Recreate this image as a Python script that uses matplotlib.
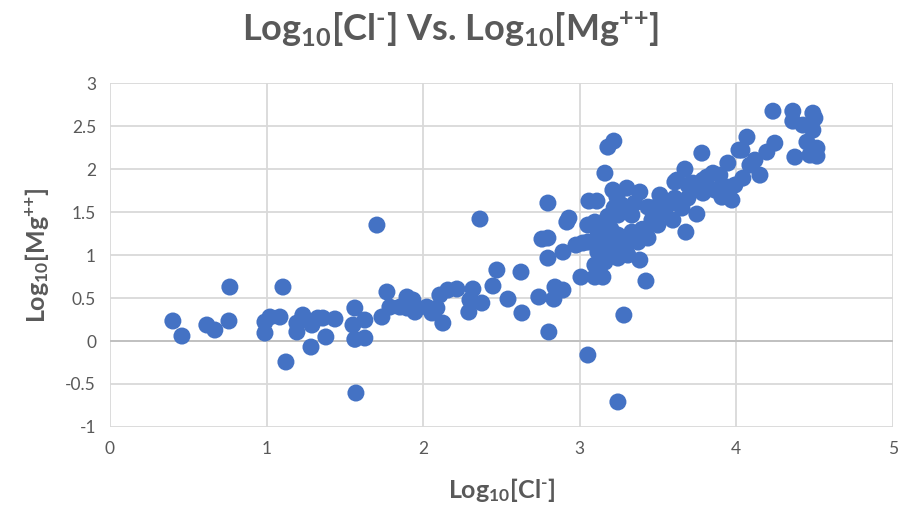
import matplotlib
matplotlib.use("Agg")
import matplotlib.pyplot as plt

plt.rcParams['font.family'] = ['Lato', 'DejaVu Sans']
plt.rcParams['mathtext.fontset'] = 'custom'
plt.rcParams['mathtext.rm'] = 'Lato:bold'
plt.rcParams['mathtext.it'] = 'Lato:bold'
plt.rcParams['mathtext.bf'] = 'Lato:bold'

log_cl = [
    0.402, 0.460, 0.619, 0.670, 0.766, 0.760, 0.990, 0.990, 1.022, 1.086,
    1.105, 1.124, 1.194, 1.194, 1.232, 1.290, 1.284, 1.328, 1.360, 1.379,
    1.437, 1.571, 1.564, 1.552, 1.628, 1.564, 1.628, 1.705, 1.769, 1.737,
    1.788, 1.852, 1.897, 1.935, 1.897, 1.948, 2.024, 2.056, 2.088, 2.107,
    2.126, 2.158, 2.216, 2.318, 2.299, 2.375, 2.292, 2.363, 2.446, 2.471,
    2.625, 2.542, 2.631, 2.739, 2.803, 2.842, 2.893, 2.835, 2.797, 2.893,
    2.759, 2.797, 2.918, 2.931, 2.976, 3.020, 3.008, 3.052, 3.244, 3.282,
    3.423, 3.384, 2.797, 3.678, 3.097, 3.148, 3.052, 3.059, 3.110, 3.212,
    3.301, 3.384, 3.512, 3.218, 3.180, 3.161, 3.436, 3.595, 3.748, 3.780,
    3.672, 3.621, 3.716, 3.787, 3.946, 3.908, 3.972, 4.017, 3.787, 3.851,
    4.234, 4.068, 4.036, 4.119, 4.151, 4.042, 3.940, 3.531, 3.723, 4.361,
    4.489, 4.502, 4.361, 4.425, 4.489, 4.246, 4.195, 4.374, 4.451, 4.515,
    4.515, 4.470, 3.812, 3.238, 3.244, 3.333, 3.352, 3.269, 3.161, 3.161,
    3.244, 3.333, 3.416, 3.461, 3.525, 3.563, 3.653, 3.691, 3.097, 3.116,
    3.206, 3.289, 3.372, 3.436, 3.161, 3.244, 3.097, 3.691, 3.608, 3.499,
    3.308, 3.052, 3.608, 3.863, 3.895, 3.991, 4.087,
    3.140, 3.200, 3.280, 3.180, 3.300, 3.120, 3.220, 3.400, 3.470, 3.550,
]

log_mg = [
    0.233, 0.058, 0.186, 0.128, 0.628, 0.233, 0.221, 0.093, 0.279, 0.279,
    0.628, -0.244, 0.209, 0.105, 0.302, 0.186, -0.070, 0.267, 0.267, 0.047,
    0.256, -0.605, 0.384, 0.186, 0.244, 0.020, 0.035, 1.349, 0.570, 0.279,
    0.395, 0.395, 0.512, 0.477, 0.384, 0.337, 0.395, 0.326, 0.384, 0.535,
    0.209, 0.593, 0.605, 0.605, 0.477, 0.442, 0.337, 1.419, 0.640, 0.826,
    0.802, 0.488, 0.326, 0.512, 0.105, 0.628, 0.593, 0.488, 0.965, 1.035,
    1.186, 1.198, 1.384, 1.430, 1.116, 1.140, 0.744, -0.163, -0.709, 0.302,
    0.698, 0.942, 1.605, 1.267, 0.744, 0.744, 1.349, 1.628, 1.628, 1.756,
    1.779, 1.733, 1.698, 2.326, 2.256, 1.953, 1.558, 1.407, 1.477, 2.186,
    2.000, 1.872, 1.779, 1.721, 2.070, 1.674, 1.640, 2.221, 1.872, 1.953,
    2.674, 2.372, 2.221, 2.105, 1.930, 1.895, 1.791, 1.640, 1.837, 2.674,
    2.651, 2.593, 2.558, 2.512, 2.453, 2.302, 2.198, 2.140, 2.314, 2.244,
    2.151, 2.163, 1.907, 1.674, 1.465, 1.465, 1.605, 1.581, 1.349, 1.174,
    1.233, 1.267, 1.267, 1.407, 1.500, 1.581, 1.547, 1.663, 1.384, 1.035,
    1.081, 1.116, 1.151, 1.198, 0.919, 0.965, 0.884, 1.814, 1.663, 1.349,
    1.000, 1.151, 1.849, 1.756, 1.930, 1.814, 2.047,
    1.100, 1.300, 1.050, 1.450, 1.200, 1.250, 1.550, 1.300, 1.550, 1.600,
]

x_ticks = [0, 1, 2, 3, 4, 5]
y_ticks = [-1, -0.5, 0, 0.5, 1, 1.5, 2, 2.5, 3]
y_tick_labels = ["-1", "-0.5", "0", "0.5", "1", "1.5", "2", "2.5", "3"]

title = r"Log$_{10}$[Cl$^{\text{-}}$] Vs. Log$_{10}$[Mg$^{{+}{+}}$]"
xlabel = r"Log$_{10}$[Cl$^{\text{-}}$]"
ylabel = r"Log$_{10}$[Mg$^{{+}{+}}$]"

grey = "#595959"
grid_c = "#D9D9D9"

fig = plt.figure(figsize=(9.01, 5.23), dpi=100)
ax = fig.add_axes([0.122, 0.1836, 0.869, 0.6574])

ax.scatter(log_cl, log_mg, s=150, color="#4472C4", edgecolors="none", zorder=3)

ax.set_xlim(0, 5)
ax.set_ylim(-1, 3)
ax.set_xticks(x_ticks)
ax.set_xticklabels([str(t) for t in x_ticks])
ax.set_yticks(y_ticks)
ax.set_yticklabels(y_tick_labels)
ax.grid(True, color=grid_c, linewidth=1.3, zorder=0)
ax.set_axisbelow(True)
ax.axhline(0, color="#BFBFBF", linewidth=1.3, zorder=1)
for s in ax.spines.values():
    s.set_visible(False)
ax.tick_params(axis='both', length=0, labelsize=12.5, labelcolor=grey, pad=10)

ax.set_xlabel(xlabel, fontsize=18, fontweight='bold', color=grey, labelpad=14)
ax.set_ylabel(ylabel, fontsize=18, fontweight='bold', color=grey, labelpad=10)
fig.text(0.5, 0.943, title, fontsize=26, fontweight='bold', color=grey,
         ha='center', va='center')

fig.savefig("out.png", dpi=100, facecolor="white")
